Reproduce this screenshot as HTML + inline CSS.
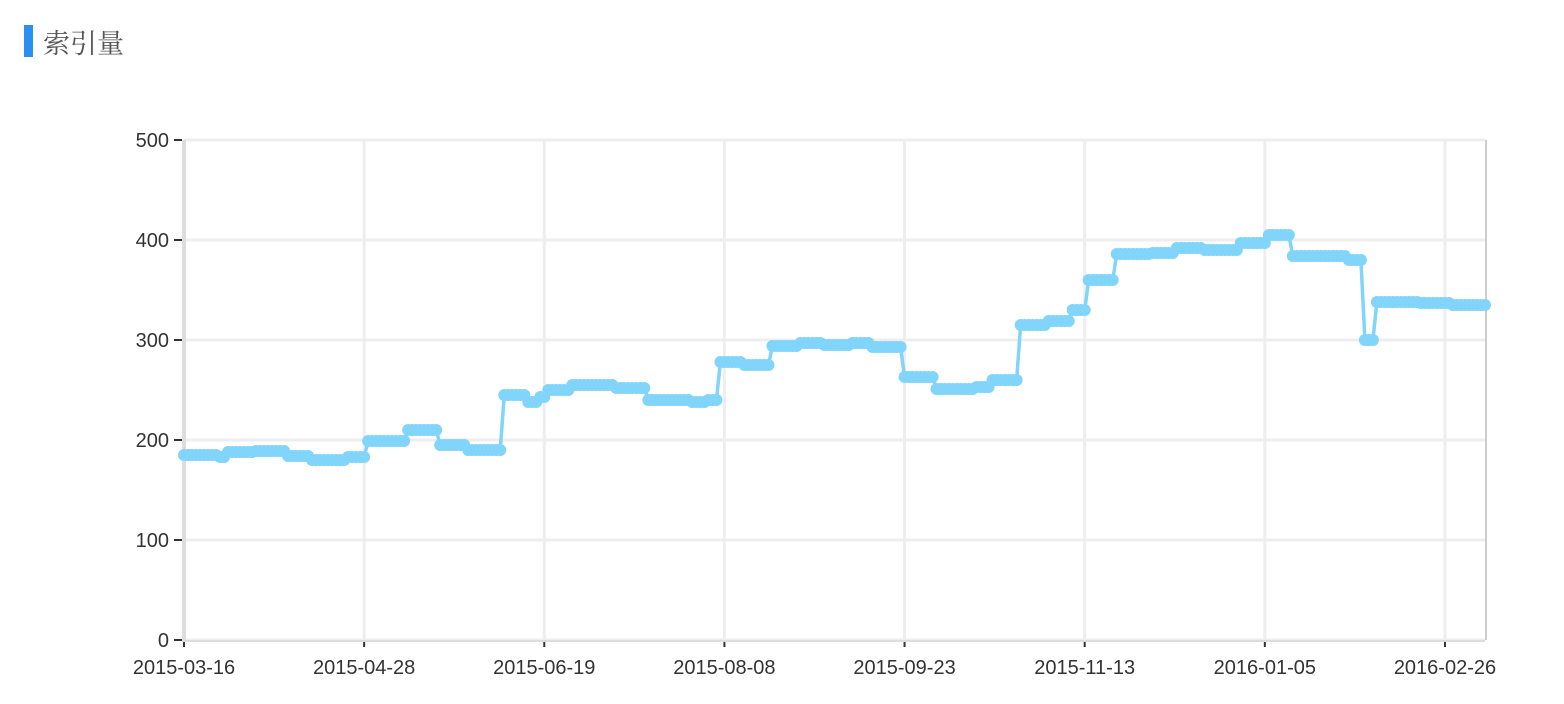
<!DOCTYPE html>
<html><head><meta charset="utf-8"><style>
html,body{margin:0;padding:0;background:#fff;width:1564px;height:704px;overflow:hidden}
.title{position:absolute;left:24px;top:25px;height:32px;display:flex;align-items:center}
.bar{width:9px;height:32px;background:#2a8ff0}
.t{margin-left:10px;font-family:"Liberation Serif","Noto Serif CJK SC",serif;font-size:27px;color:#555}
svg{position:absolute;left:0;top:0}
text{font-family:"Liberation Sans",sans-serif;font-size:20px;fill:#333}
</style></head><body>
<div class="title"><div class="bar"></div><span class="t">索引量</span></div>
<svg id="c" width="1564" height="704"></svg>
<script>
const levels=[185,183,188,189,184,180,183,199,210,195,190,245,238,243,250,255,252,240,238,240,278,275,294,297,295,297,293,263,251,253,260,315,319,330,360,386,387,392,390,397,405,384,380,300,338,337,335];
const runLengths=[9,2,7,8,6,9,5,10,8,7,9,6,3,2,6,11,8,11,4,3,6,7,7,6,7,5,8,8,10,4,7,7,6,4,7,9,6,7,9,7,6,14,4,3,11,8,9];
const yTicks=[0,100,200,300,400,500];
const xTickLabels=["2015-03-16","2015-04-28","2015-06-19","2015-08-08","2015-09-23","2015-11-13","2016-01-05","2016-02-26"];
const xTickEvery=45;
const values=[];
levels.forEach((v,i)=>{for(let k=0;k<runLengths[i];k++)values.push(v);});
const L=184,R=1485,T=140,B=640,yMax=500;
const n=values.length;
const xs=i=>L+(R-L)*i/(n-1);
const ys=v=>B-(B-T)*v/yMax;
const svg=document.getElementById('c');
const NS='http://www.w3.org/2000/svg';
function mk(tag,attrs,parent){const e=document.createElementNS(NS,tag);for(const k in attrs)e.setAttribute(k,attrs[k]);(parent||svg).appendChild(e);return e;}
yTicks.forEach(t=>{
  const g=mk('line',{x1:L,x2:R,y1:ys(t),y2:ys(t),stroke:'#eee','stroke-width':3});
  
  
  const tk=mk('line',{x1:174,x2:182,y1:ys(t),y2:ys(t),stroke:'#333','stroke-width':2});
  
  
  const tx=mk('text',{x:169,y:ys(t)+7,'text-anchor':'end'});tx.textContent=t;
  
  
});
xTickLabels.forEach((lab,i)=>{
  const x=xs(i*xTickEvery);
  const g=mk('line',{x1:x,x2:x,y1:T,y2:B,stroke:'#eee','stroke-width':3});
  
  
  const tk=mk('line',{x1:x,x2:x,y1:B,y2:B+7,stroke:'#333','stroke-width':2});
  
  
  const tx=mk('text',{x:x,y:674,'text-anchor':'middle'});tx.textContent=lab;
  
  
});
const ax=mk('line',{x1:L,x2:L,y1:T,y2:B+2,stroke:'#ddd','stroke-width':4});


const rx=mk('line',{x1:R+1,x2:R+1,y1:T,y2:B,stroke:'#ccc','stroke-width':2});


const bx=mk('line',{x1:L,x2:R,y1:B+1,y2:B+1,stroke:'#ddd','stroke-width':2});


const pts=values.map((v,i)=>xs(i).toFixed(2)+','+ys(v).toFixed(2)).join(' ');
const line=mk('polyline',{points:pts,fill:'none',stroke:'#81d4fa','stroke-width':3.5,'stroke-linejoin':'round'});


values.forEach((v,i)=>{
  const c=mk('circle',{cx:xs(i),cy:ys(v),r:6,fill:'#81d4fa'});
  
  
});
</script>
</body></html>
